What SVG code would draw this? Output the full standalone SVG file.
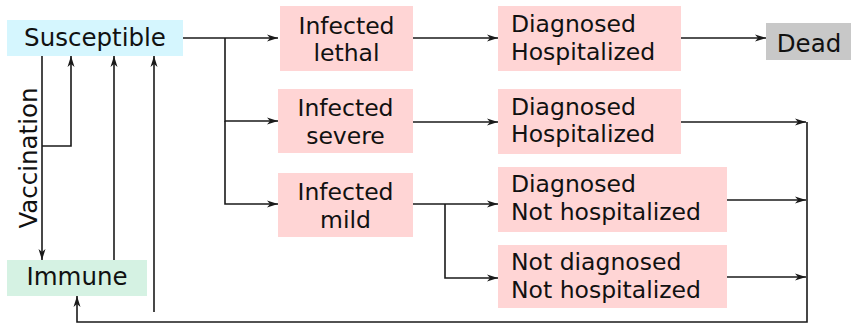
<svg xmlns="http://www.w3.org/2000/svg" width="854" height="324" viewBox="0 0 854 324">
<defs>
<marker id="ah" markerWidth="12" markerHeight="8" refX="11" refY="4" orient="auto" markerUnits="userSpaceOnUse">
<path d="M0,0.5 L11,4 L0,7.5 L3,4 Z" fill="#1a1a1a"/>
</marker>
<style>
.lbl{font-family:"DejaVu Sans","Liberation Sans",sans-serif;font-size:24.5px;fill:#111}
.two{font-size:23.5px}
.c{text-anchor:middle}
.inf{fill:#ffd5d5}
.con path{fill:none;stroke:#1a1a1a;stroke-width:1.6}
.arr{marker-end:url(#ah)}
</style>
</defs>
<rect width="854" height="324" fill="#ffffff"/>
<g id="susceptible"><rect x="7" y="20" width="176" height="36" fill="#d5f6fe"/><text class="lbl c" x="95" y="46">Susceptible</text></g>
<g id="immune"><rect x="7" y="260" width="140" height="36" fill="#d5f2e3"/><text class="lbl c" x="77" y="285">Immune</text></g>
<g id="inf-lethal"><rect class="inf" x="280" y="6" width="133" height="65"/><text class="lbl two c"><tspan x="346.5" y="33.5">Infected</tspan><tspan x="346.5" y="61">lethal</tspan></text></g>
<g id="inf-severe"><rect class="inf" x="278" y="89" width="135" height="64"/><text class="lbl two c"><tspan x="345.5" y="116">Infected</tspan><tspan x="345.5" y="143.5">severe</tspan></text></g>
<g id="inf-mild"><rect class="inf" x="278" y="173" width="135" height="64"/><text class="lbl two c"><tspan x="345.5" y="200">Infected</tspan><tspan x="345.5" y="227.5">mild</tspan></text></g>
<g id="diag-hosp-1"><rect class="inf" x="498" y="6" width="183" height="65"/><text class="lbl two"><tspan x="511" y="32">Diagnosed</tspan><tspan x="511" y="59.5">Hospitalized</tspan></text></g>
<g id="diag-hosp-2"><rect class="inf" x="498" y="89" width="183" height="65"/><text class="lbl two"><tspan x="511" y="114.5">Diagnosed</tspan><tspan x="511" y="142">Hospitalized</tspan></text></g>
<g id="diag-nothosp"><rect class="inf" x="498" y="167" width="229" height="65"/><text class="lbl two"><tspan x="511" y="192">Diagnosed</tspan><tspan x="511" y="219.5">Not hospitalized</tspan></text></g>
<g id="notdiag-nothosp"><rect class="inf" x="498" y="245" width="229" height="63"/><text class="lbl two"><tspan x="511" y="270">Not diagnosed</tspan><tspan x="511" y="297.5">Not hospitalized</tspan></text></g>
<g id="dead"><rect x="766" y="23" width="85" height="37" fill="#c8c8c8"/><text class="lbl c" x="809" y="52">Dead</text></g>
<g id="connectors" class="con">
<path class="arr" d="M183,38 H278"/>
<path class="arr" d="M225,38 V121 H278"/>
<path class="arr" d="M225,121 V204 H278"/>
<path class="arr" d="M413,38 H498"/>
<path class="arr" d="M681,38 H766"/>
<path class="arr" d="M413,122 H498"/>
<path class="arr" d="M413,204 H498"/>
<path class="arr" d="M445,204 V278 H498"/>
<path class="arr" d="M681,122 H806"/>
<path class="arr" d="M727,200 H806"/>
<path class="arr" d="M727,277 H806"/>
<path class="arr" d="M807,122 V322 H77 V296"/>
<path class="arr" d="M42,56 V260"/>
<path class="arr" d="M42,146 H71 V56"/>
<path class="arr" d="M114,260 V56"/>
<path class="arr" d="M154,312 V56"/>
</g>
<text class="lbl c" transform="translate(37,158) rotate(-90)">Vaccination</text>
</svg>
